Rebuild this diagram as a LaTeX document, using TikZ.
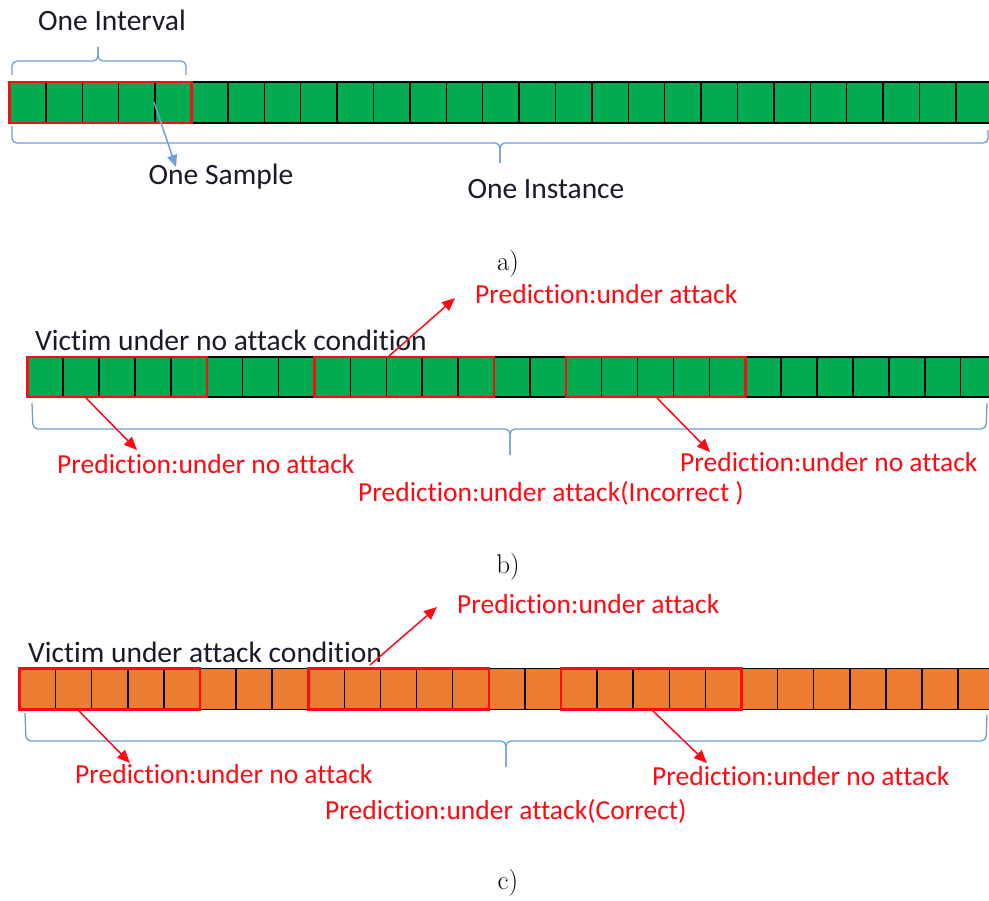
\documentclass[tikz,border=0pt]{standalone}
\usepackage{fontspec}
\newfontfamily\calib[Ligatures=NoCommon]{Carlito}
\usetikzlibrary{arrows.meta}
\definecolor{cgreen}{HTML}{00AC4F}
\definecolor{corange}{HTML}{ED7D31}
\definecolor{cblue}{HTML}{6E9FD6}
\definecolor{cred}{HTML}{FF0A14}
\definecolor{cdark}{HTML}{1A1A2A}
\tikzset{
  cellline/.style={draw=black, line width=1.5pt},
  redbox/.style={draw=cred, line width=2.6pt},
  bracepath/.style={draw=cblue, line width=1.3pt, rounded corners=5pt},
  blacktext/.style={font=\calib\fontsize{29.5}{34}\selectfont, text=cdark, inner sep=0pt},
  redtext/.style={font=\calib\fontsize{27.5}{32}\selectfont, text=cred, inner sep=0pt},
  captext/.style={font=\fontsize{27}{32}\selectfont, inner sep=0pt},
  redarrow/.style={draw=cred, line width=1.5pt, -{Triangle[length=13pt,width=11pt]}},
  bluearrow/.style={draw=cblue, line width=1.5pt, -{Triangle[length=12pt,width=10pt]}}
}
\newcommand{\drawbar}[5]{%
  \fill[#5] (#1,#2) rectangle (1000,#3);
  \foreach \k in {1,...,27} {\draw[cellline] ({#1+\k*#4},#2) -- ({#1+\k*#4},#3);}
  \draw[cellline] (#1,#2) -- (1000,#2) (#1,#3) -- (1000,#3) (#1,#2) -- (#1,#3);
}
\begin{document}
\begin{tikzpicture}[x=1pt,y=-1pt]
\useasboundingbox (0,0) rectangle (989,901);
\clip (0,0) rectangle (989,901);
\fill[white] (0,0) rectangle (989,901);

% ---------------- panel a ----------------
\drawbar{9.5}{82}{123}{36.4}{cgreen}
\draw[redbox] (9.5,82) rectangle ({9.5+5*36.4},123);
% top brace
\draw[bracepath] (12,75) -- (12,61) -- (98,61) -- (98,47);
\draw[bracepath] (186,75) -- (186,61) -- (98,61) -- (98,47);
% bottom brace
\draw[bracepath] (12,126) -- (12,143) -- (500,143) -- (500,163);
\draw[bracepath] (988,130) -- (988,143) -- (500,143) -- (500,163);
\node[blacktext] (interval) at (112,20) {One Interval};
\node[blacktext] (sample) at (221,177) {One Sample};
\node[blacktext] (instance) at (546,189) {One Instance};
\coordinate (as) at (154,102);
\coordinate (ae) at (176,167);
\draw[bluearrow] (as) -- (ae);
\node[captext] (capa) at (508,264) {a)};

% ---------------- panel b ----------------
\drawbar{27.3}{357}{397}{35.9}{cgreen}
\draw[redbox] (27.3,357) rectangle ({27.3+5*35.9},397);
\draw[redbox] ({27.3+8*35.9},357) rectangle ({27.3+13*35.9},397);
\draw[redbox] ({27.3+15*35.9},357) rectangle ({27.3+20*35.9},397);
\draw[bracepath] (32,403) -- (33,429) -- (510,429) -- (510,455);
\draw[bracepath] (987,403) -- (986,429) -- (510,429) -- (510,455);
\node[blacktext, anchor=west] (bvictim) at (35,340) {Victim under no attack condition};
\node[redtext, anchor=west] (bp2) at (475,294) {Prediction:under attack};
\node[redtext, anchor=west] (bp1) at (57,464) {Prediction:under no attack};
\node[redtext, anchor=west] (bp3) at (680,462) {Prediction:under no attack};
\node[redtext, anchor=west] (bp4) at (358,493) {Prediction:under attack(Incorrect )};
\coordinate (b1s) at (86,398);  \coordinate (b1e) at (137,450);
\coordinate (b2s) at (388,357); \coordinate (b2e) at (455,298);
\coordinate (b3s) at (657,398); \coordinate (b3e) at (710,452);
\draw[redarrow] (b1s) -- (b1e);
\draw[redarrow] (b2s) -- (b2e);
\draw[redarrow] (b3s) -- (b3e);
\node[captext] (capb) at (508,567) {b)};

% ---------------- panel c ----------------
\drawbar{19.5}{668.5}{709.5}{36.1}{corange}
\draw[redbox] (19.5,668.5) rectangle ({19.5+5*36.1},709.5);
\draw[redbox] ({19.5+8*36.1},668.5) rectangle ({19.5+13*36.1},709.5);
\draw[redbox] ({19.5+15*36.1},668.5) rectangle ({19.5+20*36.1},709.5);
\draw[bracepath] (25,713) -- (26,741) -- (506,741) -- (506,767);
\draw[bracepath] (987,715) -- (986,741) -- (506,741) -- (506,767);
\node[blacktext, anchor=west] (cvictim) at (28,652) {Victim under attack condition};
\node[redtext, anchor=west] (cp2) at (457,604) {Prediction:under attack};
\node[redtext, anchor=west] (cp1) at (75,774) {Prediction:under no attack};
\node[redtext, anchor=west] (cp3) at (652,776) {Prediction:under no attack};
\node[redtext, anchor=west] (cp4) at (325,811) {Prediction:under attack(Correct)};
\coordinate (c1s) at (78,710);  \coordinate (c1e) at (130,763);
\coordinate (c2s) at (370,665); \coordinate (c2e) at (437,607);
\coordinate (c3s) at (652,710); \coordinate (c3e) at (707,763);
\draw[redarrow] (c1s) -- (c1e);
\draw[redarrow] (c2s) -- (c2e);
\draw[redarrow] (c3s) -- (c3e);
\node[captext] (capc) at (508,883) {c)};
\end{tikzpicture}
\end{document}
